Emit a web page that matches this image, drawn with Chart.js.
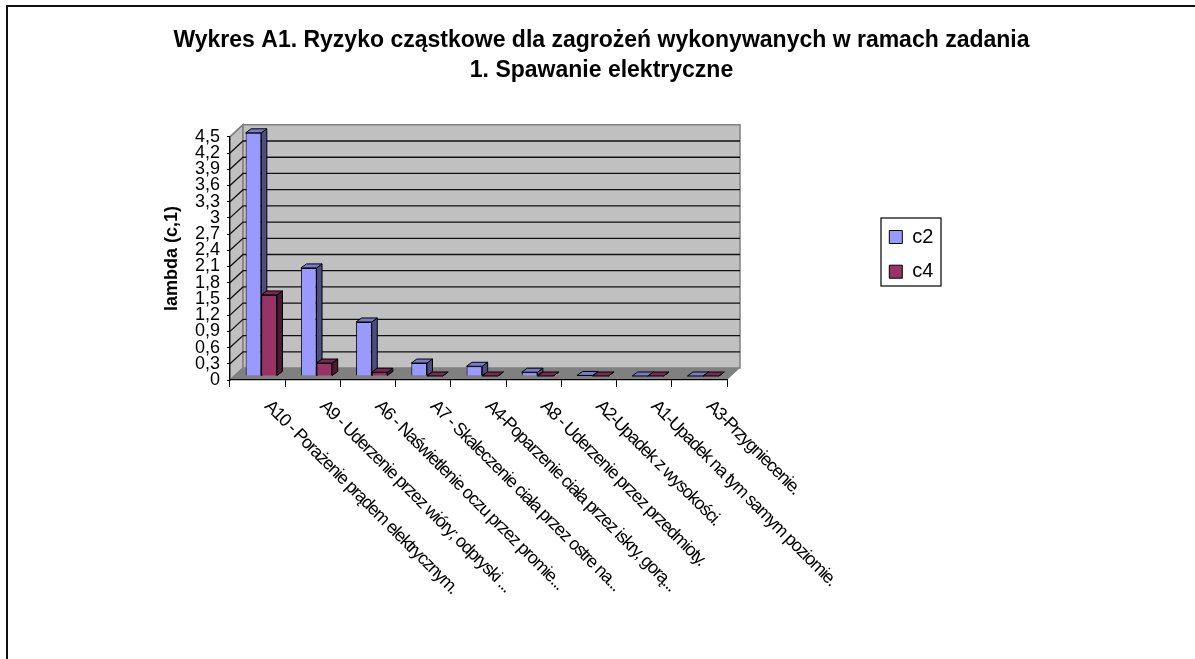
<!DOCTYPE html>
<html><head><meta charset="utf-8">
<style>html,body{margin:0;padding:0;background:#fff}canvas{display:block}</style>
<script src="https://cdn.jsdelivr.net/npm/chart.js@4"></script>
</head><body><canvas id="c" width="1195" height="659"></canvas>
<script>
const categories = ["A10 - Porażenie prądem elektrycznym.","A9 - Uderzenie przez wióry; odpryski ...","A6 - Naświetlenie oczu przez promie...","A7 - Skaleczenie ciała przez ostre na...","A4-Poparzenie ciała przez iskry, gorą...","A8 - Uderzenie przez przedmioty.","A2-Upadek z wysokości.","A1-Upadek na tym samym poziomie.","A3-Przygniecenie."];
const c2 = [4.5,2.0,1.0,0.24,0.18,0.07,0.01,0,0];
const c4 = [1.5,0.24,0.07,0,0,0,0,0,0];
const yLabels = ["0","0,3","0,6","0,9","1,2","1,5","1,8","2,1","2,4","2,7","3","3,3","3,6","3,9","4,2","4,5"];
const FONT = '"Liberation Sans", Arial, sans-serif';
const DX = 13, DY = 12, BX = 3.7, BY = 4, SX = 5.5, SY = 4;
const faces = [{side:'#4d4d80',top:'#7a7acc'},{side:'#4d1a33',top:'#7a2952'}];
function poly(ctx,pts,fill,stroke,lw){ctx.beginPath();pts.forEach((p,i)=>i?ctx.lineTo(p[0],p[1]):ctx.moveTo(p[0],p[1]));ctx.closePath();
  if(fill){ctx.fillStyle=fill;ctx.fill();} if(stroke){ctx.strokeStyle=stroke;ctx.lineWidth=lw||1;ctx.stroke();}}
function drawFaces(ctx,meta,f){
  meta.data.forEach(b=>{
    const w=b.width/2,l=b.x-w,r=b.x+w;
    poly(ctx,[[r,b.y],[r+SX,b.y-SY],[r+SX,b.base-SY],[r,b.base]],f.side,'#000',1);
    poly(ctx,[[l,b.y],[l+SX,b.y-SY],[r+SX,b.y-SY],[r,b.y]],f.top,'#000',1);
  });
}
const scene = {
  id:'scene',
  afterLayout(chart){
    const l=chart.legend; l.left=874.6; l.right=960; l.top=212.3; l.bottom=320;
    const t=chart.titleBlock; t.left=8; t.right=1195;t.width=1187;
  },
  beforeDraw(chart){
    const ctx=chart.ctx,{y}=chart.scales,a=chart.chartArea;
    ctx.save();
    ctx.fillStyle='#fff';ctx.fillRect(0,0,chart.width,chart.height);
    ctx.strokeStyle='#111';ctx.lineWidth=2;
    ctx.beginPath();ctx.moveTo(7,chart.height);ctx.lineTo(7,6);ctx.lineTo(chart.width,6);ctx.stroke();
    const L=a.left,R=a.right,T=a.top,B=a.bottom;
    poly(ctx,[[L,B],[L+DX,B-DY],[R+DX,B-DY],[R,B]],'#808080');
    poly(ctx,[[L,T],[L+DX,T-DY],[L+DX,B-DY],[L,B]],'#c0c0c0','#808080',1.5);
    poly(ctx,[[L+DX,T-DY],[R+DX,T-DY],[R+DX,B-DY],[L+DX,B-DY]],'#c0c0c0','#808080',1.5);
    y.ticks.forEach((t,i)=>{
      const py=y.getPixelForTick(i);
      const edge=i===0||i===y.ticks.length-1;
      ctx.strokeStyle=edge?'#808080':'#111';ctx.lineWidth=1.3;
      ctx.beginPath();ctx.moveTo(L,py);ctx.lineTo(L+DX,py-DY);
      if(!edge)ctx.lineTo(R+DX,py-DY);
      ctx.stroke();
    });
    ctx.strokeStyle='#000';ctx.lineWidth=1.2;ctx.strokeRect(881,218,60,68);
    ctx.restore();
  },
  beforeDatasetsDraw(chart){chart.ctx.save();chart.ctx.translate(BX,-BY);},
  afterDatasetsDraw(chart){
    const ctx=chart.ctx,m0=chart.getDatasetMeta(0),m1=chart.getDatasetMeta(1);
    drawFaces(ctx,m0,faces[0]);
    m1.data.forEach(b=>b.draw(ctx));
    drawFaces(ctx,m1,faces[1]);
    ctx.restore();
  },
  afterDraw(chart){
    const ctx=chart.ctx,x=chart.scales.x;
    ctx.save();
    ctx.font='18px '+FONT;ctx.fillStyle='#000';ctx.textAlign='left';ctx.textBaseline='top';ctx.letterSpacing='-1.25px';
    categories.forEach((c,i)=>{
      ctx.save();
      ctx.translate(x.getPixelForTick(i)+16,chart.chartArea.bottom+17);
      ctx.rotate(Math.PI/4);
      ctx.fillText(c,0,0);
      ctx.restore();
    });
    ctx.restore();
  }
};
const chart = new Chart(document.getElementById('c'),{
  type:'bar',
  plugins:[scene],
  data:{labels:categories,datasets:[
    {label:'c2',data:c2,backgroundColor:'#9999ff',borderColor:'#000',borderWidth:1,clip:false},
    {label:'c4',data:c4,backgroundColor:'#993366',borderColor:'#000',borderWidth:1,clip:false}
  ]},
  options:{
    responsive:false,animation:false,
    layout:{padding:{left:160,right:200,top:0,bottom:0}},
    datasets:{bar:{categoryPercentage:0.567,barPercentage:1}},
    plugins:{
      tooltip:{enabled:false},
      title:{display:true,text:["Wykres A1. Ryzyko cząstkowe dla zagrożeń wykonywanych w ramach zadania","1. Spawanie elektryczne"],
        color:'#000',font:{family:FONT,size:23,weight:'bold',lineHeight:1.3},padding:{top:26,bottom:51}},
      legend:{display:true,position:'right',align:'start',labels:{boxWidth:13,boxHeight:13,padding:14.7,color:'#000',font:{family:FONT,size:20}}}
    },
    scales:{
      x:{offset:true,grid:{offset:true,drawOnChartArea:false,drawTicks:true,tickLength:7,color:'#000'},border:{color:'#000',width:1.2},
        ticks:{display:false},afterFit(s){s.height=279;}},
      y:{min:0,max:4.5,grid:{drawOnChartArea:false,drawTicks:true,tickLength:3,color:'#000'},border:{color:'#000',width:1.2},
        afterBuildTicks(s){s.ticks=yLabels.map((_,i)=>({value:Math.round(i*3)/10}));},
        ticks:{stepSize:0.3,autoSkip:false,padding:7,color:'#000',font:{family:FONT,size:18},callback(v,i){return yLabels[i];}},
        title:{display:true,text:'lambda (c,1)',color:'#000',font:{family:FONT,size:18,weight:'bold'},padding:{top:1.5,bottom:0}},
        afterFit(s){s.width=70;}}
    }
  }
});
const a=chart.chartArea;
chart.options.layout.padding.right+=a.right-727;
chart.update();
</script></body></html>
